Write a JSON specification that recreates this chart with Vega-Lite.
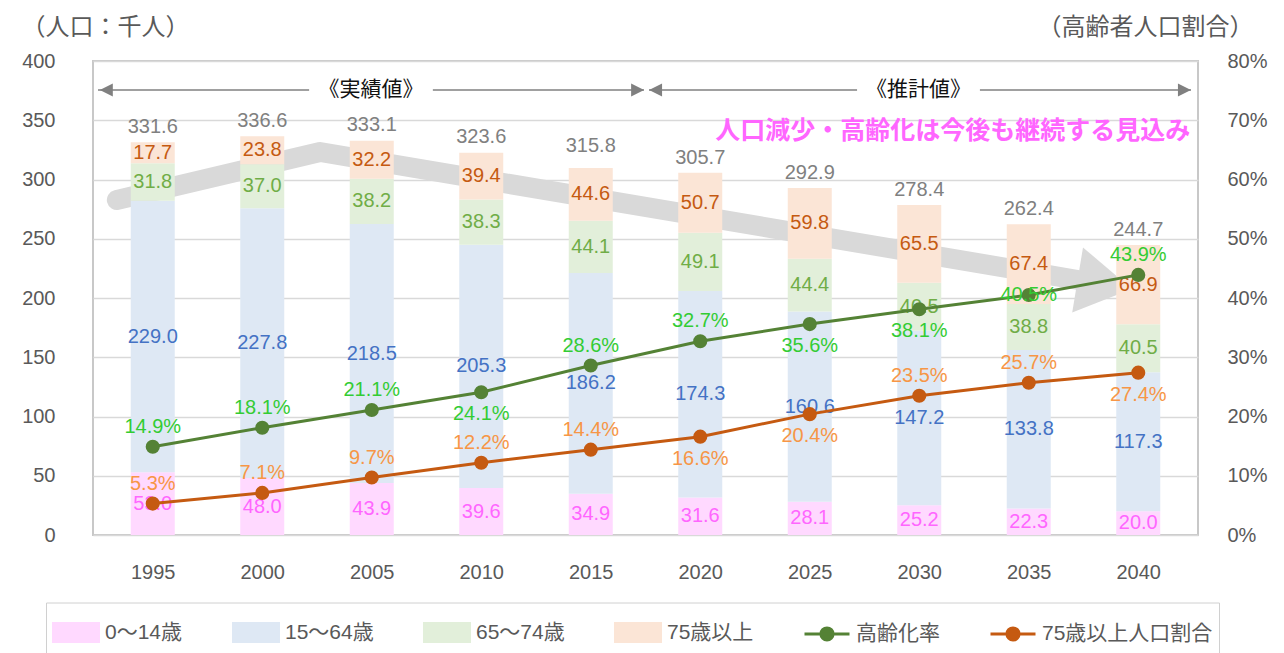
{
  "$schema": "https://vega.github.io/schema/vega-lite/v6.json",
  "width": 1105,
  "height": 474,
  "autosize": "none",
  "padding": {"left": 93, "top": 61, "right": 86, "bottom": 118},
  "background": "white",
  "config": {
    "view": {"stroke": "#C8C8C8", "strokeWidth": 2},
    "axis": {
      "labelFont": "Liberation Sans",
      "labelFontSize": 20,
      "labelColor": "#595959",
      "domain": false,
      "ticks": false,
      "tickSize": 0,
      "labelOverlap": false,
      "labelFlush": false,
      "titleFont": "Noto Sans CJK JP",
      "titleFontWeight": "normal",
      "titleColor": "#595959",
      "titleFontSize": 24
    },
    "text": {"font": "Liberation Sans", "fontSize": 20}
  },
  "datasets": {
    "pop": [
      {"year": 1995, "0～14歳": 53.0, "15～64歳": 229.0, "65～74歳": 31.8, "75歳以上": 17.7},
      {"year": 2000, "0～14歳": 48.0, "15～64歳": 227.8, "65～74歳": 37.0, "75歳以上": 23.8},
      {"year": 2005, "0～14歳": 43.9, "15～64歳": 218.5, "65～74歳": 38.2, "75歳以上": 32.2},
      {"year": 2010, "0～14歳": 39.6, "15～64歳": 205.3, "65～74歳": 38.3, "75歳以上": 39.4},
      {"year": 2015, "0～14歳": 34.9, "15～64歳": 186.2, "65～74歳": 44.1, "75歳以上": 44.6},
      {"year": 2020, "0～14歳": 31.6, "15～64歳": 174.3, "65～74歳": 49.1, "75歳以上": 50.7},
      {"year": 2025, "0～14歳": 28.1, "15～64歳": 160.6, "65～74歳": 44.4, "75歳以上": 59.8},
      {"year": 2030, "0～14歳": 25.2, "15～64歳": 147.2, "65～74歳": 40.5, "75歳以上": 65.5},
      {"year": 2035, "0～14歳": 22.3, "15～64歳": 133.8, "65～74歳": 38.8, "75歳以上": 67.4},
      {"year": 2040, "0～14歳": 20.0, "15～64歳": 117.3, "65～74歳": 40.5, "75歳以上": 66.9}
    ],
    "totals": [
      {"year": 1995, "total": 331.6},
      {"year": 2000, "total": 336.6},
      {"year": 2005, "total": 333.1},
      {"year": 2010, "total": 323.6},
      {"year": 2015, "total": 315.8},
      {"year": 2020, "total": 305.7},
      {"year": 2025, "total": 292.9},
      {"year": 2030, "total": 278.4},
      {"year": 2035, "total": 262.4},
      {"year": 2040, "total": 244.7}
    ],
    "rates": [
      {"year": 1995, "series": "高齢化率", "r": 0.149},
      {"year": 2000, "series": "高齢化率", "r": 0.181},
      {"year": 2005, "series": "高齢化率", "r": 0.211},
      {"year": 2010, "series": "高齢化率", "r": 0.241},
      {"year": 2015, "series": "高齢化率", "r": 0.286},
      {"year": 2020, "series": "高齢化率", "r": 0.327},
      {"year": 2025, "series": "高齢化率", "r": 0.356},
      {"year": 2030, "series": "高齢化率", "r": 0.381},
      {"year": 2035, "series": "高齢化率", "r": 0.405},
      {"year": 2040, "series": "高齢化率", "r": 0.439},
      {"year": 1995, "series": "75歳以上人口割合", "r": 0.053},
      {"year": 2000, "series": "75歳以上人口割合", "r": 0.071},
      {"year": 2005, "series": "75歳以上人口割合", "r": 0.097},
      {"year": 2010, "series": "75歳以上人口割合", "r": 0.122},
      {"year": 2015, "series": "75歳以上人口割合", "r": 0.144},
      {"year": 2020, "series": "75歳以上人口割合", "r": 0.166},
      {"year": 2025, "series": "75歳以上人口割合", "r": 0.204},
      {"year": 2030, "series": "75歳以上人口割合", "r": 0.235},
      {"year": 2035, "series": "75歳以上人口割合", "r": 0.257},
      {"year": 2040, "series": "75歳以上人口割合", "r": 0.274}
    ],
    "trend": [
      {"year": 1993.36, "v": 282.7},
      {"year": 2002.64, "v": 323.2},
      {"year": 2037.25, "v": 215.2}
    ],
    "trendHead": [{"year": 2038.47, "v": 211.4}],
    "spans": [
      {"x0": 1992.5, "x1": 2002.14, "v": 375.5},
      {"x0": 2007.79, "x1": 2017.43, "v": 375.5},
      {"x0": 2017.66, "x1": 2027.16, "v": 375.5},
      {"x0": 2032.77, "x1": 2042.41, "v": 375.5}
    ],
    "heads": [
      {"year": 1992.88, "v": 375.5, "side": "left"},
      {"year": 2017.14, "v": 375.5, "side": "right"},
      {"year": 2017.96, "v": 375.5, "side": "left"},
      {"year": 2042.11, "v": 375.5, "side": "right"}
    ],
    "brackets": [
      {"label": "《実績値》", "year": 2004.97, "v": 375.5},
      {"label": "《推計値》", "year": 2029.97, "v": 375.5}
    ],
    "note": [
      {"label": "人口減少・高齢化は今後も継続する見込み", "year": 2042.37, "v": 341}
    ]
  },
  "layer": [
    {
      "layer": [
        {
          "data": {"name": "trend"},
          "mark": {"type": "line", "stroke": "#D9D9D9", "strokeWidth": 20, "strokeCap": "round", "strokeJoin": "round"},
          "encoding": {
            "x": {"field": "year", "type": "quantitative", "scale": {"domain": [1992.5, 2042.5], "nice": false, "zero": false}},
            "y": {"field": "v", "type": "quantitative", "scale": {"domain": [0, 400], "nice": false}}
          }
        },
        {
          "data": {"name": "trendHead"},
          "mark": {"type": "point", "shape": "M1,0L-1,-1.2L-1,1.2Z", "size": 3025, "angle": 9.4, "filled": true, "fill": "#D9D9D9", "opacity": 1, "strokeWidth": 0},
          "encoding": {
            "x": {"field": "year", "type": "quantitative"},
            "y": {"field": "v", "type": "quantitative"}
          }
        },
        {
          "data": {"name": "pop"},
          "transform": [
            {"fold": ["0～14歳", "15～64歳", "65～74歳", "75歳以上"], "as": ["group", "v"]},
            {"stack": "v", "groupby": ["year"], "sort": [{"field": "group", "order": "ascending"}], "as": ["y0", "y1"]}
          ],
          "mark": {"type": "bar", "size": 44},
          "encoding": {
            "x": {
              "field": "year", "type": "quantitative",
              "scale": {"domain": [1992.5, 2042.5], "nice": false, "zero": false},
              "axis": {"values": [1995, 2000, 2005, 2010, 2015, 2020, 2025, 2030, 2035, 2040], "format": "d", "labelPadding": 27, "grid": false, "title": null}
            },
            "y": {
              "field": "y0", "type": "quantitative",
              "scale": {"domain": [0, 400], "nice": false},
              "axis": {
                "values": [0, 50, 100, 150, 200, 250, 300, 350, 400],
                "grid": true, "gridColor": "#D9D9D9", "gridWidth": 1.5,
                "labelPadding": 38,
                "title": "（人口：千人）",
                "titleAngle": 0, "titleAlign": "center", "titleBaseline": "middle",
                "titleX": 12, "titleY": -34
              }
            },
            "y2": {"field": "y1"},
            "color": {
              "field": "group", "type": "nominal",
              "scale": {
                "domain": ["0～14歳", "15～64歳", "65～74歳", "75歳以上", "高齢化率", "75歳以上人口割合"],
                "range": ["#FFD9FF", "#DEE8F4", "#E2EFDA", "#FBE5D6", "#548235", "#C55A11"]
              },
              "legend": {
                "orient": "none", "legendX": -47, "legendY": 541.5,
                "direction": "horizontal", "title": null,
                "columnPadding": 44, "symbolSize": 2025, "symbolStrokeWidth": 3,
                "labelOffset": 5, "labelFontSize": 21,
                "labelFont": "Liberation Sans, Noto Sans CJK JP",
                "labelColor": "#595959", "labelLimit": 400,
                "strokeColor": "#D0D0D0", "padding": 6,
                "encode": {
                  "symbols": {
                    "update": {
                      "shape": {"signal": "(datum.value=='高齢化率'||datum.value=='75歳以上人口割合') ? 'M-1,0H1M0.27,0A0.27,0.27,0,1,1,-0.27,0A0.27,0.27,0,1,1,0.27,0Z' : 'M-1,-0.4H1V0.4H-1Z'"},
                      "fill": {"signal": "scale('color', datum.value)"},
                      "stroke": {"signal": "(datum.value=='高齢化率'||datum.value=='75歳以上人口割合') ? scale('color', datum.value) : 'transparent'"},
                      "strokeWidth": {"value": 3},
                      "opacity": {"value": 1}
                    }
                  }
                }
              }
            }
          }
        },
        {
          "data": {"name": "pop"},
          "transform": [
            {"fold": ["0～14歳", "15～64歳", "65～74歳", "75歳以上"], "as": ["group", "v"]},
            {"stack": "v", "groupby": ["year"], "sort": [{"field": "group", "order": "ascending"}], "as": ["y0", "y1"]},
            {"calculate": "(datum.y0 + datum.y1) / 2", "as": "mid"}
          ],
          "mark": {"type": "text", "baseline": "middle", "align": "center"},
          "encoding": {
            "x": {"field": "year", "type": "quantitative"},
            "y": {"field": "mid", "type": "quantitative"},
            "text": {"field": "v", "type": "quantitative", "format": ".1f"},
            "fill": {
              "field": "group", "type": "nominal",
              "scale": {
                "domain": ["0～14歳", "15～64歳", "65～74歳", "75歳以上", "高齢化率", "75歳以上人口割合"],
                "range": ["#FF66FF", "#4472C4", "#70AD47", "#C55A11", "#33CC33", "#F79646"]
              },
              "legend": null
            }
          }
        },
        {
          "data": {"name": "totals"},
          "mark": {"type": "text", "baseline": "middle", "align": "center", "dy": -15, "fill": "#808080"},
          "encoding": {
            "x": {"field": "year", "type": "quantitative"},
            "y": {"field": "total", "type": "quantitative"},
            "text": {"field": "total", "type": "quantitative", "format": ".1f"}
          }
        },
        {
          "data": {"name": "spans"},
          "mark": {"type": "rule", "stroke": "#808080", "strokeWidth": 1.5},
          "encoding": {
            "x": {"field": "x0", "type": "quantitative"},
            "x2": {"field": "x1"},
            "y": {"field": "v", "type": "quantitative"}
          }
        },
        {
          "data": {"name": "heads"},
          "mark": {"type": "point", "size": 169, "filled": true, "fill": "#808080", "opacity": 1, "strokeWidth": 0},
          "encoding": {
            "x": {"field": "year", "type": "quantitative"},
            "y": {"field": "v", "type": "quantitative"},
            "shape": {"field": "side", "type": "nominal", "scale": {"domain": ["left", "right"], "range": ["M-1,0L1,-1L1,1Z", "M1,0L-1,-1L-1,1Z"]}, "legend": null}
          }
        },
        {
          "data": {"name": "brackets"},
          "mark": {"type": "text", "baseline": "middle", "align": "center", "font": "Noto Sans CJK JP", "fontSize": 21, "fill": "#111111"},
          "encoding": {
            "x": {"field": "year", "type": "quantitative"},
            "y": {"field": "v", "type": "quantitative"},
            "text": {"field": "label"}
          }
        },
        {
          "data": {"name": "note"},
          "mark": {"type": "text", "baseline": "middle", "align": "right", "font": "Noto Sans CJK JP", "fontSize": 25, "fontWeight": "bold", "fill": "#FF66FF"},
          "encoding": {
            "x": {"field": "year", "type": "quantitative"},
            "y": {"field": "v", "type": "quantitative"},
            "text": {"field": "label"}
          }
        }
      ]
    },
    {
      "layer": [
        {
          "data": {"name": "rates"},
          "mark": {"type": "line", "strokeWidth": 3, "point": {"filled": true, "size": 200, "opacity": 1}},
          "encoding": {
            "x": {"field": "year", "type": "quantitative"},
            "y": {
              "field": "r", "type": "quantitative",
              "scale": {"domain": [0, 0.8], "nice": false},
              "axis": {
                "orient": "right", "format": ".0%",
                "values": [0, 0.1, 0.2, 0.3, 0.4, 0.5, 0.6, 0.7, 0.8],
                "grid": false, "labelPadding": 29,
                "title": "（高齢者人口割合）",
                "titleAngle": 0, "titleAlign": "center", "titleBaseline": "middle",
                "titleX": -53, "titleY": -34
              }
            },
            "color": {
              "field": "series", "type": "nominal",
              "scale": {
                "domain": ["0～14歳", "15～64歳", "65～74歳", "75歳以上", "高齢化率", "75歳以上人口割合"],
                "range": ["#FFD9FF", "#DEE8F4", "#E2EFDA", "#FBE5D6", "#548235", "#C55A11"]
              }
            }
          }
        },
        {
          "data": {"name": "rates"},
          "transform": [
            {"filter": "(datum.series=='高齢化率' && indexof([1995,2000,2005,2015,2020,2040], datum.year)>=0) || (datum.series=='75歳以上人口割合' && indexof([1995,2000,2005,2010,2015,2030,2035], datum.year)>=0)"}
          ],
          "mark": {"type": "text", "baseline": "middle", "align": "center", "dy": -20},
          "encoding": {
            "x": {"field": "year", "type": "quantitative"},
            "y": {"field": "r", "type": "quantitative"},
            "text": {"field": "r", "type": "quantitative", "format": ".1%"},
            "fill": {"field": "series", "type": "nominal", "legend": null}
          }
        },
        {
          "data": {"name": "rates"},
          "transform": [
            {"filter": "(datum.series=='高齢化率' && indexof([2010,2025,2030], datum.year)>=0) || (datum.series=='75歳以上人口割合' && indexof([2020,2025,2040], datum.year)>=0)"}
          ],
          "mark": {"type": "text", "baseline": "middle", "align": "center", "dy": 22},
          "encoding": {
            "x": {"field": "year", "type": "quantitative"},
            "y": {"field": "r", "type": "quantitative"},
            "text": {"field": "r", "type": "quantitative", "format": ".1%"},
            "fill": {"field": "series", "type": "nominal", "legend": null}
          }
        },
        {
          "data": {"name": "rates"},
          "transform": [
            {"filter": "datum.series=='高齢化率' && datum.year==2035"}
          ],
          "mark": {"type": "text", "baseline": "middle", "align": "center", "dy": 0},
          "encoding": {
            "x": {"field": "year", "type": "quantitative"},
            "y": {"field": "r", "type": "quantitative"},
            "text": {"field": "r", "type": "quantitative", "format": ".1%"},
            "fill": {"field": "series", "type": "nominal", "legend": null}
          }
        }
      ]
    }
  ],
  "resolve": {"scale": {"y": "independent"}}
}
